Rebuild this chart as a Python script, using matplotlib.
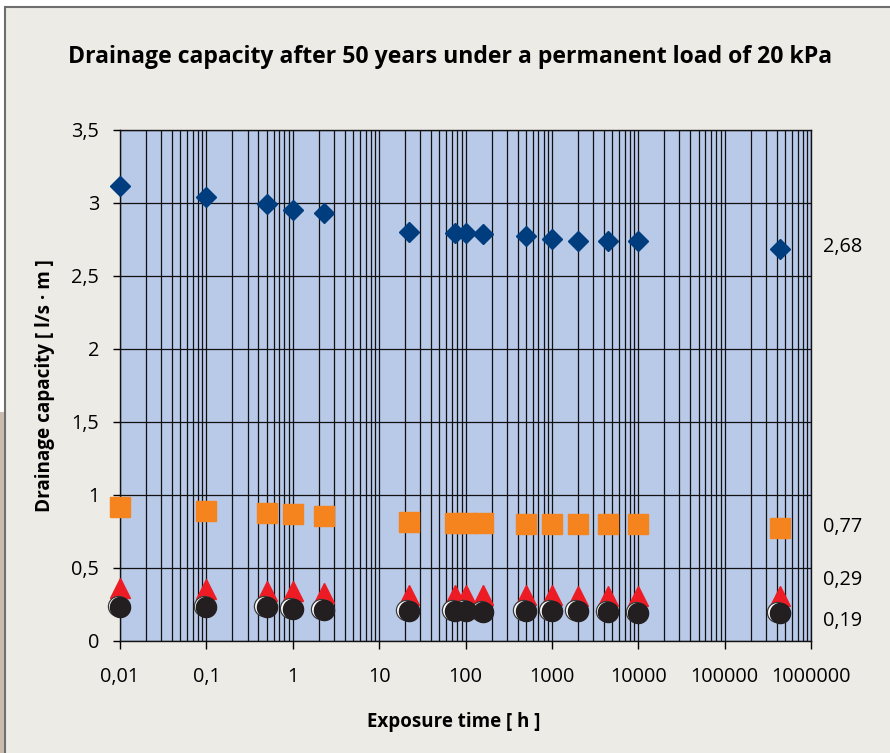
#!/usr/bin/env python3
"""
plot.py - Drainage capacity vs exposure time (log scale), four test series.
"""

from __future__ import annotations

import matplotlib
matplotlib.use("Agg")
import matplotlib.pyplot as plt
from matplotlib.patches import Rectangle
from matplotlib.ticker import FixedLocator, LogLocator, NullFormatter
from matplotlib.transforms import ScaledTranslation

# exposure time [h] of each reading
exposure_h = [0.01, 0.1, 0.5, 1, 2.3, 22, 75, 100, 160, 500, 1000, 2000, 4500, 10000, 435000]

# drainage capacity [l/s*m] per series
series_diamond = [3.11, 3.04, 2.99, 2.95, 2.93, 2.80, 2.79, 2.79, 2.785, 2.77, 2.75, 2.74, 2.74, 2.74, 2.68]
series_square = [0.915, 0.89, 0.875, 0.87, 0.855, 0.815, 0.81, 0.81, 0.81, 0.80, 0.80, 0.80, 0.80, 0.80, 0.77]
series_triangle = [0.36, 0.355, 0.345, 0.34, 0.33, 0.315, 0.315, 0.315, 0.315, 0.315, 0.315, 0.31, 0.305, 0.305, 0.305]
series_circle = [0.23, 0.235, 0.23, 0.22, 0.215, 0.205, 0.205, 0.205, 0.20, 0.205, 0.205, 0.205, 0.20, 0.195, 0.19]

# end values written at the right of the plot
end_labels = ["2,68", "0,77", "0,29", "0,19"]
end_label_px = [247, 527, 580, 621]

x_ticks = [0.01, 0.1, 1, 10, 100, 1000, 10000, 100000, 1000000]
x_ticklabels = ["0,01", "0,1", "1", "10", "100", "1000", "10000", "100000", "1000000"]
y_ticks = [0, 0.5, 1, 1.5, 2, 2.5, 3, 3.5]
y_ticklabels = ["0", "0,5", "1", "1,5", "2", "2,5", "3", "3,5"]

FONT = ["Open Sans", "DejaVu Sans"]
W, H = 890, 753


def main() -> None:
    plt.rcParams["font.family"] = FONT

    fig = plt.figure(figsize=(W / 100, H / 100), dpi=100)
    fig.patch.set_facecolor("white")

    # page background / frame
    fig.patches.append(Rectangle((5 / W, -0.01), 1, 1.01 - 7 / H, transform=fig.transFigure,
                                 facecolor="#ecebe6", edgecolor="#6e6e6e", lw=1.5, zorder=-5))
    fig.patches.append(Rectangle((0, 0), 4 / W, 1 - 412 / H, transform=fig.transFigure,
                                 facecolor="#c9bbad", edgecolor="none", zorder=-4))

    ax = fig.add_axes([120 / W, 1 - 641 / H, 691 / W, 511.5 / H])
    ax.set_facecolor("#b9c9e8")
    ax.set_xscale("log")
    ax.set_xlim(0.01, 1e6)
    ax.set_ylim(0, 3.5)

    ax.xaxis.set_major_locator(FixedLocator(x_ticks))
    ax.set_xticklabels(x_ticklabels)
    ax.xaxis.set_minor_locator(LogLocator(base=10, subs=range(2, 10), numticks=20))
    ax.xaxis.set_minor_formatter(NullFormatter())
    ax.set_yticks(y_ticks)
    ax.set_yticklabels(y_ticklabels)

    ax.tick_params(axis="x", which="major", length=6, width=1, pad=13, labelsize=14.3)
    ax.tick_params(axis="x", which="minor", length=0)
    ax.tick_params(axis="y", length=5, width=1, pad=10, labelsize=14.3)

    ax.grid(True, which="both", axis="x", color="#111111", lw=0.9)
    ax.grid(True, which="major", axis="y", color="#111111", lw=0.9)
    ax.set_axisbelow(True)
    for sp in ax.spines.values():
        sp.set_color("#111111")
        sp.set_linewidth(1)

    ax.plot(exposure_h, series_diamond, "D", ms=10.5, color="#003d7e", mec="#003d7e",
            zorder=3, clip_on=False)
    ax.plot(exposure_h, series_square, "s", ms=14.5, color="#f5841f", mec="#f5841f",
            zorder=3, clip_on=False)
    ax.plot(exposure_h, series_triangle, "^", ms=14, color="#ed1c24", mec="#ed1c24",
            zorder=3, clip_on=False)

    # faint ring shifted up-left behind each black dot
    shift = ax.transData + ScaledTranslation(-2.5 / 100, 1 / 100, fig.dpi_scale_trans)
    ax.plot(exposure_h, series_circle, "o", ms=14.5, mfc="white", mec="#3a3a3a", mew=0.9,
            transform=shift, zorder=4, clip_on=False)
    ax.plot(exposure_h, series_circle, "o", ms=14.5, color="#231f20", mec="#231f20",
            zorder=5, clip_on=False)

    ax.set_title("Drainage capacity after 50 years under a permanent load of 20 kPa",
                 fontsize=16.6, fontweight="bold", pad=48, x=0.477)
    ax.set_xlabel("Exposure time [ h ]", fontsize=13.5, fontweight="bold", labelpad=18, x=0.483)
    ax.set_ylabel("Drainage capacity [ l/s · m ]", fontsize=13.6, fontweight="bold", labelpad=12)

    for text, py in zip(end_labels, end_label_px):
        fig.text(823 / W, 1 - py / H, text, fontsize=14.3, ha="left", va="center")

    fig.savefig("out.png", dpi=100, facecolor=fig.get_facecolor())
    plt.close(fig)


if __name__ == "__main__":
    main()
